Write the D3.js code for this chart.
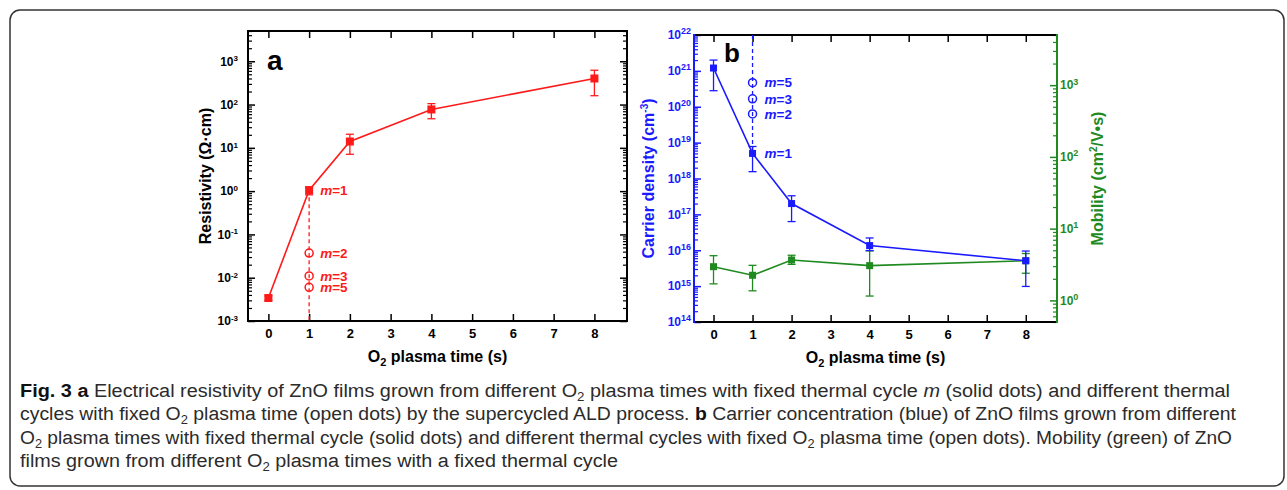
<!DOCTYPE html>
<html>
<head>
<meta charset="utf-8">
<script src="https://cdn.jsdelivr.net/npm/d3@7"></script>
<style>
  body { margin: 0; background: #fff; }
  svg { display: block; }
  text { font-family: "Liberation Sans", Arial, sans-serif; }
</style>
</head>
<body>
<svg id="fig" width="1287" height="490"></svg>
<script>
// plasma times (s)
const times = [0, 1, 2, 4, 8];
const xTicks = [0, 1, 2, 3, 4, 5, 6, 7, 8];

// panel a: resistivity (Ohm cm), solid dots
const resistivity = [0.0034, 1.05, 14, 77, 400];
const resLow = [0.0030, 0.82, 7.1, 47, 160];
const resHigh = [0.0038, 1.25, 20.6, 105, 620];
// open dots at 1 s
const resOpenLabels = ["m=2", "m=3", "m=5"];
const resOpen = [0.037, 0.011, 0.006];
const resExps = [-3, -2, -1, 0, 1, 2, 3];

// panel b: carrier density (cm^-3)
const carrier = [1.2e21, 5e18, 2e17, 1.35e16, 5.1e15];
const carrierLow = [2.8e20, 1.55e18, 6.3e16, 9.8e15, 9.8e14];
const carrierHigh = [2e21, 7.8e18, 3.3e17, 2.2e16, 9.5e15];
const carrierOpenLabels = ["m=5", "m=3", "m=2"];
const carrierOpen = [4.7e20, 1.66e20, 6.3e19];
const carrierExps = [14, 15, 16, 17, 18, 19, 20, 21, 22];

// panel b: mobility (cm2/V s)
const mobility = [2.95, 2.24, 3.66, 3.05, 3.57];
const mobLow = [1.7, 1.36, 3.18, 1.15, 2.39];
const mobHigh = [4.2, 3.08, 4.26, 4.9, 4.5];
const mobExps = [0, 1, 2, 3];

const RED = "#ff1a1a", BLUE = "#1a1aff", GREEN = "#1f8a1f";

const svg = d3.select("#fig");

// outer figure frame
svg.append("rect")
  .attr("x", 10).attr("y", 10).attr("width", 1274).attr("height", 476)
  .attr("rx", 10).attr("fill", "none").attr("stroke", "#333").attr("stroke-width", 1.5);

function minors(lo, hi) {
  const out = [];
  for (let e = Math.floor(Math.log10(lo)); e <= Math.ceil(Math.log10(hi)); e++) {
    for (let k = 2; k <= 9; k++) {
      const v = k * Math.pow(10, e);
      if (v >= lo * 0.999 && v <= hi * 1.001) out.push(v);
    }
  }
  return out;
}

// log y axis with 10^n labels and minor ticks
function logAxis(x, scale, side, exps, color, pad, supSize, labels) {
  const mk = side === "left" ? d3.axisLeft : d3.axisRight;
  const g = svg.append("g").attr("transform", "translate(" + x + ",0)").attr("color", color);
  g.call(mk(scale).tickValues(minors(scale.domain()[0], scale.domain()[1]))
    .tickSizeInner(-4).tickSizeOuter(0).tickFormat(""));
  g.select(".domain").remove();
  const gm = svg.append("g").attr("transform", "translate(" + x + ",0)").attr("color", color);
  gm.call(mk(scale).tickValues(exps.map(e => Math.pow(10, e)))
    .tickSizeInner(-7).tickSizeOuter(0).tickPadding(pad).tickFormat(""));
  gm.select(".domain").remove();
  gm.selectAll("line").attr("stroke-width", 1.5);
  g.selectAll("line").attr("stroke-width", 1.2);
  if (labels) {
    gm.selectAll(".tick text")
      .attr("font-size", 12).attr("font-weight", "bold").attr("fill", color)
      .attr("font-family", "Liberation Sans, Arial, sans-serif")
      .each(function(d) {
        const t = d3.select(this);
        t.append("tspan").text("10");
        t.append("tspan").attr("dy", "-0.55em").attr("font-size", supSize)
          .text(Math.round(Math.log10(d)));
      });
  } else {
    gm.selectAll(".tick text").remove();
  }
}

function xAxes(P, x) {
  const gb = svg.append("g").attr("transform", "translate(0," + P.bottom + ")");
  gb.call(d3.axisBottom(x).tickValues(xTicks).tickSizeInner(-7).tickSizeOuter(0).tickPadding(8));
  gb.select(".domain").remove();
  gb.selectAll("line").attr("stroke-width", 1.5);
  gb.selectAll("text").attr("font-size", 13).attr("font-weight", "bold")
    .attr("font-family", "Liberation Sans, Arial, sans-serif");
  const gt = svg.append("g").attr("transform", "translate(0," + P.top + ")");
  gt.call(d3.axisTop(x).tickValues(xTicks).tickSizeInner(-7).tickSizeOuter(0).tickFormat(""));
  gt.select(".domain").remove();
  gt.selectAll("line").attr("stroke-width", 1.5);
  gt.selectAll("text").remove();

  const t = svg.append("text")
    .attr("x", (P.left + P.right) / 2).attr("y", P.bottom + 41)
    .attr("text-anchor", "middle").attr("font-size", 16).attr("font-weight", "bold");
  t.append("tspan").text("O");
  t.append("tspan").attr("font-size", 11).attr("dy", 4).text("2");
  t.append("tspan").attr("dy", -4).text(" plasma time (s)");
}

function frameSide(x1, y1, x2, y2, color) {
  svg.append("line").attr("x1", x1).attr("y1", y1).attr("x2", x2).attr("y2", y2)
    .attr("stroke", color).attr("stroke-width", 2).attr("stroke-linecap", "square");
}

function series(x, y, vals, lo, hi, color, size, cap) {
  const g = svg.append("g");
  g.append("path").datum(times.map((t, i) => [t, vals[i]]))
    .attr("fill", "none").attr("stroke", color).attr("stroke-width", 1.6)
    .attr("d", d3.line().x(d => x(d[0])).y(d => y(d[1])));
  times.forEach((t, i) => {
    const cx = x(t);
    g.append("line").attr("x1", cx).attr("x2", cx).attr("y1", y(lo[i])).attr("y2", y(hi[i]))
      .attr("stroke", color).attr("stroke-width", 1.3);
    [lo[i], hi[i]].forEach(v => {
      g.append("line").attr("x1", cx - cap).attr("x2", cx + cap).attr("y1", y(v)).attr("y2", y(v))
        .attr("stroke", color).attr("stroke-width", 1.3);
    });
    g.append("rect").attr("x", cx - size / 2).attr("y", y(vals[i]) - size / 2)
      .attr("width", size).attr("height", size).attr("fill", color);
  });
}

function mLabel(x, y, label, color) {
  const t = svg.append("text").attr("x", x).attr("y", y).attr("dy", "0.36em")
    .attr("font-size", 13.5).attr("font-weight", "bold").attr("fill", color);
  t.append("tspan").attr("font-style", "italic").text(label.slice(0, 1));
  t.append("tspan").text(label.slice(1));
}

// ---------- panel a ----------
const A = { left: 248, right: 627, top: 31, bottom: 321 };
const xa = d3.scaleLinear().domain([-0.5, 8.8]).range([A.left, A.right]);
const ya = d3.scaleLog().domain([1e-3, 5e3]).range([A.bottom, A.top]);

logAxis(A.left, ya, "left", resExps, "#000", 10, 8, true);
logAxis(A.right, ya, "right", resExps, "#000", 4, 8, false);
xAxes(A, xa);
frameSide(A.left, A.top, A.right, A.top, "#000");
frameSide(A.left, A.bottom, A.right, A.bottom, "#000");
frameSide(A.left, A.top, A.left, A.bottom, "#000");
frameSide(A.right, A.top, A.right, A.bottom, "#000");

svg.append("line").attr("x1", xa(1)).attr("x2", xa(1))
  .attr("y1", ya(resistivity[1])).attr("y2", A.bottom)
  .attr("stroke", RED).attr("stroke-width", 1.3).attr("stroke-dasharray", "4,3");
series(xa, ya, resistivity, resLow, resHigh, RED, 8, 4);
resOpen.forEach((v, i) => {
  svg.append("circle").attr("cx", xa(1)).attr("cy", ya(v)).attr("r", 4)
    .attr("fill", "none").attr("stroke", RED).attr("stroke-width", 1.5);
  mLabel(xa(1) + 11, ya(v), resOpenLabels[i], RED);
});
mLabel(xa(1) + 11, ya(resistivity[1]), "m=1", RED);

svg.append("text").attr("x", 267).attr("y", 70).attr("font-size", 28).attr("font-weight", "bold").text("a");
svg.append("text").attr("transform", "translate(211," + (A.top + A.bottom) / 2 + ") rotate(-90)")
  .attr("text-anchor", "middle").attr("font-size", 16).attr("font-weight", "bold")
  .text("Resistivity (\u03A9\u00B7cm)");

// ---------- panel b ----------
const B = { left: 694, right: 1057, top: 35, bottom: 322 };
const xb = d3.scaleLinear().domain([-0.5, 8.8]).range([B.left, B.right]);
const yb = d3.scaleLog().domain([1e14, 1e22]).range([B.bottom, B.top]);
const ym = d3.scaleLog().domain([0.5, 5000]).range([B.bottom, B.top]);

logAxis(B.left, yb, "left", carrierExps, BLUE, 3, 9, true);
logAxis(B.right, ym, "right", mobExps, GREEN, 3, 9, true);
xAxes(B, xb);
frameSide(B.left, B.top, B.right, B.top, "#000");
frameSide(B.left, B.bottom, B.right, B.bottom, "#000");
frameSide(B.left, B.top, B.left, B.bottom, BLUE);
frameSide(B.right, B.top, B.right, B.bottom, GREEN);

svg.append("line").attr("x1", xb(1)).attr("x2", xb(1))
  .attr("y1", B.top).attr("y2", yb(carrier[1]))
  .attr("stroke", BLUE).attr("stroke-width", 1.3).attr("stroke-dasharray", "4,3");
series(xb, ym, mobility, mobLow, mobHigh, GREEN, 7, 4);
series(xb, yb, carrier, carrierLow, carrierHigh, BLUE, 7, 4);
carrierOpen.forEach((v, i) => {
  svg.append("circle").attr("cx", xb(1)).attr("cy", yb(v)).attr("r", 4)
    .attr("fill", "none").attr("stroke", BLUE).attr("stroke-width", 1.5);
  mLabel(xb(1) + 12, yb(v), carrierOpenLabels[i], BLUE);
});
mLabel(xb(1) + 12, yb(carrier[1]), "m=1", BLUE);

svg.append("text").attr("x", 724).attr("y", 62).attr("font-size", 26).attr("font-weight", "bold").text("b");

const cl = svg.append("text").attr("transform", "translate(654," + (B.top + B.bottom) / 2 + ") rotate(-90)")
  .attr("text-anchor", "middle").attr("font-size", 16).attr("font-weight", "bold").attr("fill", BLUE);
cl.append("tspan").text("Carrier density (cm");
cl.append("tspan").attr("dy", -6).attr("font-size", 10).text("-3");
cl.append("tspan").attr("dy", 6).text(")");

const ml = svg.append("text").attr("transform", "translate(1103," + (B.top + B.bottom) / 2 + ") rotate(-90)")
  .attr("text-anchor", "middle").attr("font-size", 16).attr("font-weight", "bold").attr("fill", GREEN);
ml.append("tspan").text("Mobility (cm");
ml.append("tspan").attr("dy", -6).attr("font-size", 10).text("2");
ml.append("tspan").attr("dy", 6).text("/V\u2022s)");

// ---------- caption ----------
const captionLines = [
  [["Fig. 3 a", "b"], [" Electrical resistivity of ZnO films grown from different O"], ["2", "sub"],
   [" plasma times with fixed thermal cycle "], ["m", "i"], [" (solid dots) and different thermal"]],
  [["cycles with fixed O"], ["2", "sub"], [" plasma time (open dots) by the supercycled ALD process. "], ["b", "b"],
   [" Carrier concentration (blue) of ZnO films grown from different"]],
  [["O"], ["2", "sub"], [" plasma times with fixed thermal cycle (solid dots) and different thermal cycles with fixed O"],
   ["2", "sub"], [" plasma time (open dots). Mobility (green) of ZnO"]],
  [["films grown from different O"], ["2", "sub"], [" plasma times with a fixed thermal cycle"]]
];
const captionWidths = [1210, 1216, 1212, 598];
const captionY = [397, 420, 444, 467];

captionLines.forEach((parts, li) => {
  const t = svg.append("text").attr("x", 20).attr("y", captionY[li])
    .attr("font-family", "'Liberation Sans Narrow', 'Liberation Sans', sans-serif")
    .attr("font-size", 18).attr("fill", "#2b2b2b")
    .attr("textLength", captionWidths[li]).attr("lengthAdjust", "spacingAndGlyphs");
  let shifted = false;
  parts.forEach(p => {
    const s = t.append("tspan").text(p[0]);
    if (shifted) { s.attr("dy", -4); shifted = false; }
    if (p[1] === "b") s.attr("font-weight", "bold").attr("fill", "#111");
    if (p[1] === "i") s.attr("font-style", "italic");
    if (p[1] === "sub") { s.attr("dy", 4).attr("font-size", 12); shifted = true; }
  });
});
</script>
</body>
</html>
